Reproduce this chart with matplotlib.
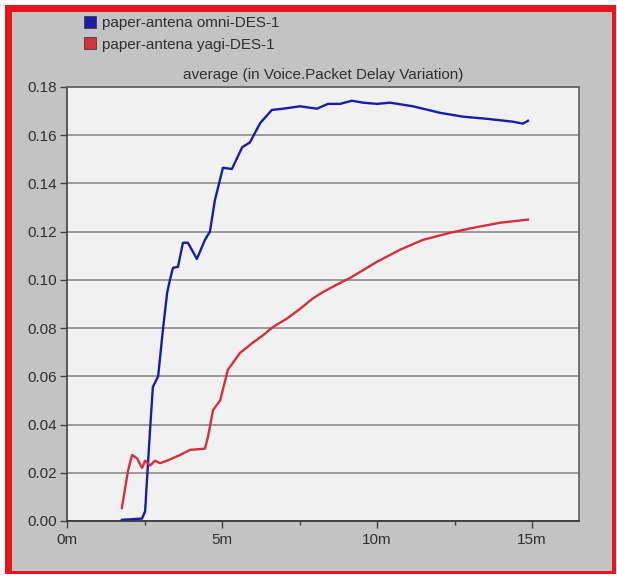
import matplotlib
matplotlib.use("Agg")
import matplotlib.pyplot as plt
from matplotlib.patches import Rectangle
from matplotlib.lines import Line2D
from matplotlib.ticker import MultipleLocator, FuncFormatter

plt.rcParams['font.family'] = ['Liberation Sans', 'DejaVu Sans']

# valores (tempo em minutos)
omni_t = [1.77, 2.42, 2.52, 2.58, 2.68, 2.77, 2.94, 3.10, 3.23, 3.32, 3.42, 3.58,
          3.74, 3.90, 4.19, 4.45, 4.61, 4.77, 5.03, 5.32, 5.65, 5.90, 6.23, 6.61,
          6.97, 7.52, 8.06, 8.42, 8.81, 9.19, 9.55, 10.0, 10.42, 11.16, 12.03,
          12.77, 13.55, 14.39, 14.71, 14.87]
omni_v = [0.0005, 0.001, 0.004, 0.017, 0.038, 0.0556, 0.060, 0.080, 0.0946, 0.100,
          0.105, 0.1054, 0.1154, 0.1154, 0.1087, 0.1166, 0.120, 0.133, 0.1465, 0.146,
          0.155, 0.157, 0.165, 0.1705, 0.171, 0.172, 0.171, 0.173, 0.173, 0.1743,
          0.1735, 0.173, 0.1735, 0.172, 0.1693, 0.1677, 0.1668, 0.1656, 0.1648, 0.166]

yagi_t = [1.77, 1.97, 2.10, 2.26, 2.42, 2.52, 2.68, 2.84, 3.00, 3.23, 3.65, 3.97,
          4.45, 4.55, 4.71, 4.94, 5.19, 5.58, 6.00, 6.32, 6.65, 7.10, 7.52, 7.90,
          8.26, 8.70, 9.13, 10.0, 10.74, 11.48, 12.35, 13.10, 13.97, 14.87]
yagi_v = [0.0054, 0.021, 0.0274, 0.026, 0.022, 0.025, 0.023, 0.025, 0.024, 0.025,
          0.0274, 0.0295, 0.030, 0.035, 0.046, 0.050, 0.0627, 0.0697, 0.074, 0.077,
          0.0805, 0.084, 0.088, 0.092, 0.095, 0.098, 0.1008, 0.1075, 0.1125, 0.1166,
          0.1195, 0.1216, 0.1237, 0.125]

labels = ['paper-antena omni-DES-1', 'paper-antena yagi-DES-1']
cores = ['#1c1ca6', '#d4313d']
titulo = 'average (in Voice.Packet Delay Variation)'

W, H = 617, 576
fig = plt.figure(figsize=(W / 100, H / 100), dpi=100, facecolor='white')

# moldura vermelha + fundo cinza
fig.patches.append(Rectangle((5 / W, 2 / H), 611 / W, 569 / H, transform=fig.transFigure,
                             facecolor='#e8141c', edgecolor='none', zorder=-2))
fig.patches.append(Rectangle((12 / W, 5 / H), 600 / W, 559 / H, transform=fig.transFigure,
                             facecolor='#c3c3c3', edgecolor='none', zorder=-1))

ax = fig.add_axes([67 / W, 1 - 521 / H, 512 / W, 434 / H])
ax.set_facecolor('#f1f1f1')

ax.plot(omni_t, omni_v, color=cores[0], lw=1.7)
ax.plot(yagi_t, yagi_v, color=cores[1], lw=1.7)

ax.set_xlim(0, 512 / 31)
ax.set_ylim(0, 0.18)
ax.yaxis.set_major_locator(MultipleLocator(0.02))
ax.yaxis.set_major_formatter(FuncFormatter(lambda v, p: f'{v:.2f}'))
ax.xaxis.set_major_locator(MultipleLocator(5))
ax.xaxis.set_minor_locator(MultipleLocator(2.5))
ax.xaxis.set_major_formatter(FuncFormatter(lambda v, p: f'{v:.0f}m'))
ax.grid(axis='y', color='#8c8c8c', lw=1.2)
ax.set_axisbelow(True)

ax.tick_params(axis='both', which='major', length=5, width=1, color='#404040',
               labelsize=11, labelcolor='#303030', pad=2)
ax.tick_params(axis='x', which='major', pad=4)
ax.tick_params(axis='x', which='minor', length=3, width=1, color='#404040')
for s in ax.spines.values():
    s.set_color('#606060')
    s.set_linewidth(1.2)
ax.spines['left'].set_color('#404040')
ax.spines['bottom'].set_color('#303030')

ax.set_title(titulo, fontsize=11, color='#303030', pad=6)

hs = [Line2D([], [], marker='s', ls='', markersize=8, markerfacecolor=c,
             markeredgecolor='#404040', markeredgewidth=0.6) for c in cores]
fig.legend(hs, labels, loc='upper left', bbox_to_anchor=(84 / W, 1 - 16 / H),
           frameon=False, fontsize=11, handlelength=0.8, handletextpad=0.4,
           labelspacing=0.5, borderpad=0, borderaxespad=0, labelcolor='#303030')

fig.savefig('out.png', dpi=100, facecolor='white')
